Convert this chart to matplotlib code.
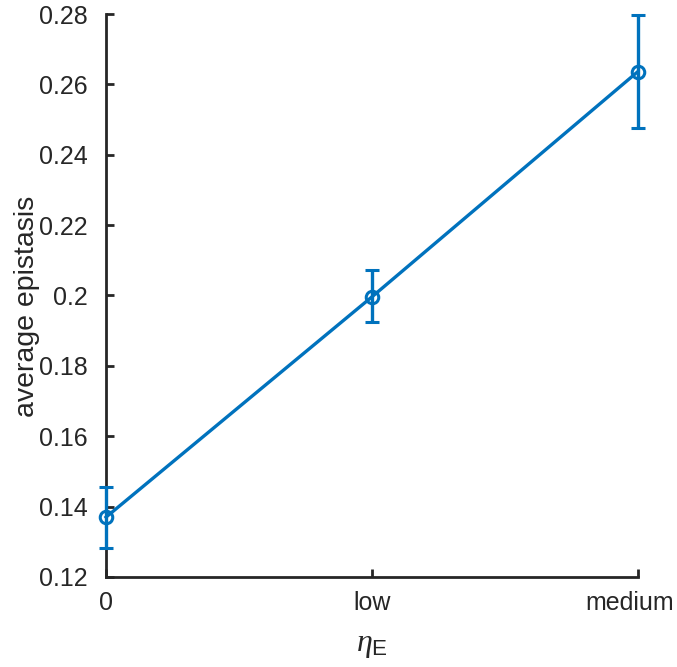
import numpy as np
import matplotlib.pyplot as plt
import matplotlib.transforms as mtransforms

plt.rcParams['font.family'] = ['Liberation Sans', 'DejaVu Sans']
plt.rcParams['mathtext.fontset'] = 'custom'
plt.rcParams['mathtext.it'] = 'Liberation Serif:italic'
plt.rcParams['mathtext.rm'] = 'Liberation Sans'

# data
x_labels = ['0', 'low', 'medium']
x_pos = [0, 1, 2]
epistasis = [0.1370, 0.1996, 0.2636]
err_low = [0.1282, 0.1925, 0.2476]
err_high = [0.1456, 0.2072, 0.2797]

azul = '#0072BD'
gris = '#262626'

yerr = [np.array(epistasis) - np.array(err_low), np.array(err_high) - np.array(epistasis)]

fig = plt.figure(figsize=(6.77, 6.67), dpi=100)
ax = fig.add_axes([0.1566, 0.135, 0.7854, 0.844])

ax.errorbar(x_pos, epistasis, yerr=yerr, color=azul, lw=2.4, marker='o',
            markersize=9, markerfacecolor='none', markeredgewidth=2.2,
            capsize=5, capthick=2.4, elinewidth=2.4, clip_on=False, zorder=3)

ax.set_xlim(0, 2)
ax.set_ylim(0.12, 0.28)
ax.set_xticks(x_pos)
ax.set_xticklabels(x_labels)
yt = np.arange(0.12, 0.2801, 0.02)
ax.set_yticks(yt)
ax.set_yticklabels(['%g' % round(v, 2) for v in yt])

for s in ['top', 'right']:
    ax.spines[s].set_visible(False)
for s in ['left', 'bottom']:
    ax.spines[s].set_color(gris)
    ax.spines[s].set_linewidth(2)

ax.tick_params(direction='in', length=6, width=2, color=gris, labelsize=18,
               labelcolor=gris)
ax.tick_params(axis='x', pad=10)
ax.tick_params(axis='y', pad=13)

# "medium" se corre un poco a la izquierda para que no se corte
lbl = ax.get_xticklabels()[2]
lbl.set_transform(lbl.get_transform() + mtransforms.ScaledTranslation(-8/100, 0, fig.dpi_scale_trans))

ax.set_xlabel(r'$\eta_{\rm E}$', fontsize=23, color=gris, labelpad=11)
ax.set_ylabel('average epistasis', fontsize=20.5, color=gris)
ax.yaxis.set_label_coords(-0.125, 0.48)

plt.savefig('out.png', dpi=100)
